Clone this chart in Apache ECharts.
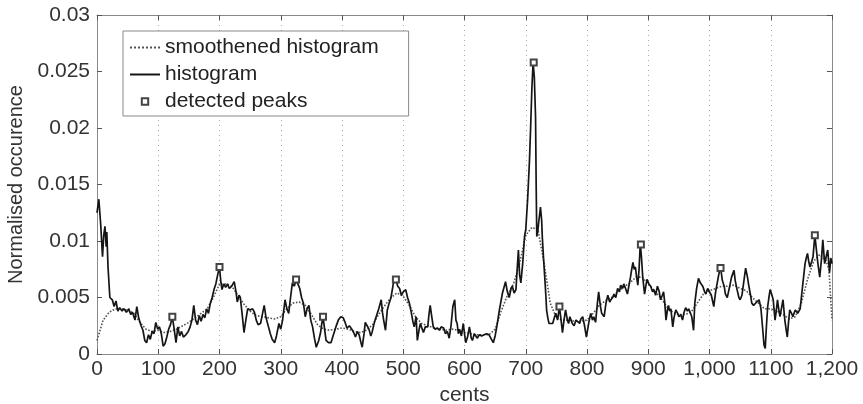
<!DOCTYPE html>
<html><head><meta charset="utf-8">
<script src="https://cdn.jsdelivr.net/npm/echarts@6/dist/echarts.min.js"></script>
<style>html,body{margin:0;padding:0;background:#fff}#c{width:863px;height:404px}</style>
</head><body><div id="c"></div>
<script>
const xTickLabels = ['0','100','200','300','400','500','600','700','800','900','1,000','1100','1,200'];
const yTickLabels = ['0','0.005','0.01','0.015','0.02','0.025','0.03'];

const histogram = [
[0,0.0125],[3,0.0137],[6,0.0115],[9,0.0086],[11,0.0105],[13,0.0113],[15,0.0095],[16,0.0108],[18,0.0077],[21,0.005],
[25,0.0048],[28,0.0042],[31,0.0047],[34,0.0038],[37,0.0041],[41,0.0038],[44,0.0040],[48,0.0037],[52,0.0040],[55,0.0035],
[58,0.0037],[62,0.0030],[65,0.0042],[68,0.0032],[72,0.0025],[75,0.0021],[78,0.0012],[81,0.0010],[84,0.0017],[87,0.0013],
[90,0.0020],[93,0.0018],[96,0.0028],[99,0.0022],[102,0.0024],[105,0.0018],[108,0.0007],[111,0.0009],[114,0.0015],[117,0.0022],
[120,0.0026],[123,0.0033],[126,0.0022],[129,0.0010],[132,0.0024],[135,0.0016],[138,0.0020],[141,0.0015],[145,0.0017],[149,0.0020],
[152,0.0024],[155,0.0030],[158,0.0043],[161,0.0030],[164,0.0026],[167,0.0034],[170,0.0029],[173,0.0035],[176,0.0032],[179,0.0040],
[182,0.0036],[185,0.0045],[188,0.0050],[191,0.0057],[194,0.0062],[197,0.0070],[200,0.0077],[202,0.0065],[204,0.0057],[207,0.0062],
[210,0.0059],[213,0.0062],[216,0.0058],[220,0.0060],[224,0.0064],[227,0.0055],[229,0.0046],[232,0.0052],[234,0.0050],[237,0.0035],
[240,0.0019],[243,0.0030],[246,0.0040],[250,0.0039],[254,0.0040],[257,0.0037],[260,0.0030],[263,0.0026],[267,0.0027],[270,0.0035],
[273,0.0043],[276,0.0032],[279,0.0026],[283,0.0018],[286,0.0013],[290,0.0010],[293,0.0016],[297,0.0027],[300,0.0022],[303,0.0030],
[307,0.0048],[310,0.0040],[313,0.0036],[316,0.0050],[319,0.0063],[322,0.0060],[325,0.0065],[328,0.0062],[331,0.0058],[334,0.0050],
[337,0.0045],[340,0.0033],[343,0.0040],[346,0.0043],[349,0.0030],[352,0.0024],[355,0.0014],[358,0.0006],[362,0.0012],[365,0.0019],
[367,0.0027],[369,0.0033],[372,0.0020],[374,0.0012],[378,0.0010],[382,0.0010],[386,0.0017],[390,0.0024],[394,0.0030],[398,0.0033],
[402,0.0032],[405,0.0028],[408,0.0023],[412,0.0025],[416,0.0022],[419,0.0019],[422,0.0015],[425,0.0020],[428,0.0017],[431,0.0010],
[433,0.0006],[436,0.0018],[438,0.0028],[441,0.0025],[444,0.0022],[447,0.0016],[449,0.0019],[452,0.0026],[454,0.0030],[457,0.0035],
[460,0.0040],[464,0.0048],[466,0.0037],[468,0.0030],[471,0.0021],[474,0.0039],[477,0.0045],[480,0.0050],[484,0.0063],[488,0.0066],
[491,0.0060],[494,0.0058],[497,0.0052],[500,0.0055],[504,0.0057],[507,0.0050],[510,0.0045],[513,0.0037],[516,0.0028],[518,0.0024],
[521,0.0033],[523,0.0012],[526,0.0022],[528,0.0027],[531,0.0022],[533,0.0019],[536,0.0024],[540,0.0024],[542,0.0035],[544,0.0043],
[546,0.0035],[549,0.0024],[552,0.0022],[556,0.0023],[559,0.0021],[562,0.0024],[566,0.0023],[569,0.0018],[572,0.0020],[575,0.0014],
[578,0.0025],[581,0.0042],[584,0.0048],[586,0.0030],[588,0.0027],[590,0.0018],[592,0.0022],[595,0.0016],[598,0.0027],[600,0.0018],
[602,0.0010],[605,0.0015],[608,0.0024],[611,0.0014],[613,0.0012],[616,0.0018],[618,0.0019],[621,0.0014],[624,0.0017],[628,0.0016],
[632,0.0017],[636,0.0018],[640,0.0017],[644,0.0013],[647,0.0010],[650,0.0016],[653,0.0025],[657,0.0039],[660,0.0048],[662,0.0054],
[665,0.0060],[667,0.0064],[670,0.0055],[673,0.0050],[676,0.0058],[678,0.0060],[681,0.0054],[684,0.0057],[686,0.0075],[688,0.0092],
[690,0.0070],[692,0.0063],[695,0.0080],[698,0.0104],[700,0.0110],[703,0.0136],[706,0.0170],[708,0.0201],[710,0.0235],[712,0.0258],
[714,0.0245],[716,0.0210],[717,0.0150],[718,0.0104],[720,0.0110],[721,0.0116],[723,0.0125],[724,0.0130],[726,0.0118],[727,0.0104],
[729,0.0085],[731,0.0068],[733,0.0050],[734,0.0039],[736,0.0032],[738,0.0027],[741,0.0026],[744,0.0027],[746,0.0031],[749,0.0036],
[752,0.0030],[755,0.0042],[757,0.0033],[760,0.0019],[762,0.0028],[765,0.0039],[768,0.0030],[770,0.0027],[772,0.0033],[774,0.0030],
[776,0.0027],[779,0.0025],[782,0.0030],[785,0.0030],[788,0.0027],[790,0.0031],[793,0.0033],[796,0.0025],[799,0.0015],[801,0.0015],
[803,0.0028],[806,0.0036],[809,0.0030],[811,0.0033],[814,0.0028],[817,0.0045],[819,0.0055],[822,0.0042],[824,0.0036],[828,0.0033],
[831,0.0045],[834,0.0052],[837,0.0046],[839,0.0048],[842,0.0050],[844,0.0053],[847,0.0050],[850,0.0058],[853,0.0055],[855,0.0061],
[858,0.0058],[860,0.0062],[863,0.0058],[866,0.0053],[869,0.0062],[871,0.0068],[873,0.0075],[875,0.0081],[877,0.0075],[879,0.0077],
[881,0.0068],[883,0.0061],[885,0.0075],[887,0.0098],[889,0.0085],[891,0.0068],[894,0.0053],[896,0.0060],[898,0.0066],[901,0.0062],
[904,0.0060],[907,0.0055],[909,0.0057],[912,0.0052],[915,0.0060],[918,0.0055],[920,0.0048],[923,0.0052],[925,0.0055],[927,0.0045],
[929,0.0030],[931,0.0038],[933,0.0043],[935,0.0038],[937,0.0040],[940,0.0024],[942,0.0032],[945,0.0039],[948,0.0036],[950,0.0033],
[953,0.0035],[956,0.0030],[958,0.0036],[961,0.0041],[964,0.0038],[966,0.0040],[969,0.0036],[971,0.0033],[974,0.0021],[976,0.0045],
[979,0.0058],[982,0.0067],[985,0.0063],[989,0.0060],[992,0.0055],[994,0.0053],[997,0.0058],[1000,0.0057],[1003,0.0052],[1007,0.0042],
[1010,0.0055],[1012,0.0061],[1015,0.0070],[1018,0.0077],[1021,0.0065],[1024,0.0060],[1026,0.0053],[1029,0.0050],[1031,0.0055],[1033,0.0060],
[1036,0.0068],[1040,0.0074],[1042,0.0065],[1045,0.0057],[1048,0.0050],[1050,0.0048],[1053,0.0052],[1056,0.0053],[1059,0.0076],[1062,0.0068],
[1064,0.0061],[1067,0.0052],[1069,0.0045],[1072,0.0043],[1074,0.0042],[1077,0.0046],[1081,0.0048],[1084,0.0040],[1087,0.0021],[1089,0.0008],
[1091,0.0005],[1093,0.0025],[1095,0.0042],[1097,0.0050],[1099,0.0057],[1102,0.0052],[1104,0.0048],[1107,0.0030],[1109,0.0038],[1111,0.0048],
[1113,0.0040],[1115,0.0033],[1118,0.0042],[1120,0.0048],[1123,0.0030],[1125,0.0022],[1127,0.0015],[1129,0.0028],[1131,0.0039],[1134,0.0036],
[1136,0.0033],[1138,0.0036],[1140,0.0039],[1144,0.0036],[1148,0.0040],[1150,0.0050],[1152,0.0060],[1154,0.0070],[1156,0.0080],[1158,0.0085],
[1160,0.0089],[1162,0.0082],[1164,0.0077],[1167,0.0082],[1169,0.0086],[1172,0.0105],[1175,0.0090],[1177,0.0080],[1180,0.0068],[1183,0.0085],
[1185,0.0101],[1188,0.0080],[1190,0.0085],[1193,0.0092],[1196,0.0072],[1198,0.0085],[1200,0.0080]
];

const smoothCents = [0,10,20,30,40,50,60,70,80,90,100,110,120,130,140,150,160,170,180,190,200,210,220,230,240,250,260,270,280,290,
300,310,320,330,340,350,360,370,380,390,400,410,420,430,440,450,460,470,480,490,500,510,520,530,540,550,560,570,580,590,
600,610,620,630,640,650,660,670,680,690,700,710,720,730,740,750,760,770,780,790,800,810,820,830,840,850,860,870,880,890,
900,910,920,930,940,950,960,970,980,990,1000,1010,1020,1030,1040,1050,1060,1070,1080,1090,1100,1110,1120,1130,1140,1150,1160,1170,1180,1190,1195,1200];
const smoothValues = [0.0012,0.0030,0.0037,0.0040,0.0040,0.0039,0.0036,0.0028,0.0022,0.0020,0.0021,0.0019,0.0020,0.0022,0.0025,0.0028,0.0032,0.0036,0.0040,0.0050,
0.0062,0.0062,0.0060,0.0052,0.0044,0.0038,0.0034,0.0033,0.0032,0.0031,0.0033,0.0040,0.0045,0.0046,0.0043,0.0035,0.0026,0.0022,0.0021,0.0022,
0.0023,0.0022,0.0020,0.0019,0.0021,0.0026,0.0035,0.0043,0.0050,0.0054,0.0051,0.0043,0.0033,0.0027,0.0025,0.0023,0.0022,0.0021,0.0022,0.0021,
0.0019,0.0018,0.0017,0.0017,0.0017,0.0022,0.0038,0.0052,0.0062,0.0080,0.0105,0.0112,0.0110,0.0080,0.0045,0.0032,0.0030,0.0030,0.0029,0.0029,
0.0030,0.0036,0.0043,0.0047,0.0050,0.0055,0.0059,0.0063,0.0068,0.0068,0.0062,0.0056,0.0050,0.0042,0.0037,0.0035,0.0035,0.0037,0.0045,0.0053,
0.0056,0.0058,0.0060,0.0060,0.0061,0.0058,0.0056,0.0050,0.0045,0.0040,0.0040,0.0038,0.0035,0.0031,0.0033,0.0045,0.0066,0.0082,0.0088,0.0083,0.0075,0.0030];

const peaks = [[123,0.0033],[200,0.0077],[325,0.0066],[369,0.0033],[488,0.0066],[713,0.0258],[755,0.0042],[888,0.0097],[1018,0.0076],[1172,0.0105]];

const FONT = '"Liberation Sans", Arial, sans-serif';
const chart = echarts.init(document.getElementById('c'), null, {renderer: 'canvas'});
const axisLineStyle = {color: '#8a8a8a', width: 1};
const tickStyle = {color: '#555', width: 1};

chart.setOption({
  animation: false,
  backgroundColor: '#fff',
  textStyle: {fontFamily: FONT},
  grid: {left: 97, right: 31, top: 15, bottom: 50, containLabel: false, outerBoundsMode: 'none'},
  legend: {
    orient: 'vertical', left: 123, top: 31,
    padding: [6, 30, 4, 6],
    itemWidth: 30, itemHeight: 8, itemGap: 6,
    borderColor: '#888', borderWidth: 1, backgroundColor: '#fff',
    textStyle: {fontSize: 21, color: '#222', fontFamily: FONT, lineHeight: 21},
    data: [
      {name: 'smoothened histogram', itemStyle: {opacity: 0}},
      {name: 'histogram', itemStyle: {opacity: 0}},
      {name: 'detected peaks'}
    ]
  },
  xAxis: [{
    type: 'value', min: 0, max: 1200, interval: 100, position: 'bottom',
    name: 'cents', nameLocation: 'middle', nameGap: 28,
    nameTextStyle: {fontSize: 21, color: '#333', fontFamily: FONT},
    axisLine: {show: true, onZero: false, lineStyle: axisLineStyle},
    axisTick: {show: true, inside: true, length: 5, lineStyle: tickStyle},
    axisLabel: {fontSize: 21, color: '#333', margin: 5, fontFamily: FONT,
      formatter: v => xTickLabels[Math.round(v / 100)]},
    splitLine: {show: true, lineStyle: {type: [1, 4], color: '#a8a8a8', width: 1}}
  }, {
    type: 'value', min: 0, max: 1200, interval: 100, position: 'top',
    axisLine: {show: true, onZero: false, lineStyle: axisLineStyle},
    axisTick: {show: true, inside: true, length: 5, lineStyle: tickStyle},
    axisLabel: {show: false}, splitLine: {show: false}
  }],
  yAxis: [{
    type: 'value', min: 0, max: 0.03, interval: 0.005, position: 'left',
    name: 'Normalised occurence', nameLocation: 'middle', nameGap: 59,
    nameTextStyle: {fontSize: 20, color: '#333', fontFamily: FONT},
    axisLine: {show: true, onZero: false, lineStyle: axisLineStyle},
    axisTick: {show: true, inside: true, length: 5, lineStyle: tickStyle},
    axisLabel: {fontSize: 21, color: '#333', margin: 7, fontFamily: FONT,
      formatter: v => yTickLabels[Math.round(v / 0.005)]},
    splitLine: {show: false}
  }, {
    type: 'value', min: 0, max: 0.03, interval: 0.005, position: 'right',
    axisLine: {show: true, onZero: false, lineStyle: axisLineStyle},
    axisTick: {show: true, inside: true, length: 5, lineStyle: tickStyle},
    axisLabel: {show: false}, splitLine: {show: false}
  }],
  series: [{
    name: 'smoothened histogram', type: 'line', xAxisIndex: 0, yAxisIndex: 0,
    data: smoothCents.map((c, i) => [c, smoothValues[i]]),
    symbol: 'none', z: 2,
    lineStyle: {type: 'dotted', color: '#555', width: 1.6},
    itemStyle: {color: '#555'}
  }, {
    name: 'histogram', type: 'line', xAxisIndex: 0, yAxisIndex: 0,
    data: histogram, symbol: 'none', z: 3,
    lineStyle: {color: '#151515', width: 1.7},
    itemStyle: {color: '#151515'}
  }, {
    name: 'detected peaks', type: 'line', xAxisIndex: 0, yAxisIndex: 0,
    data: peaks, symbol: 'emptyRect', symbolSize: 6, showSymbol: true, z: 4,
    lineStyle: {width: 0, opacity: 0},
    itemStyle: {color: '#444', borderColor: '#444', borderWidth: 1.2}
  }]
});
</script>
</body></html>
